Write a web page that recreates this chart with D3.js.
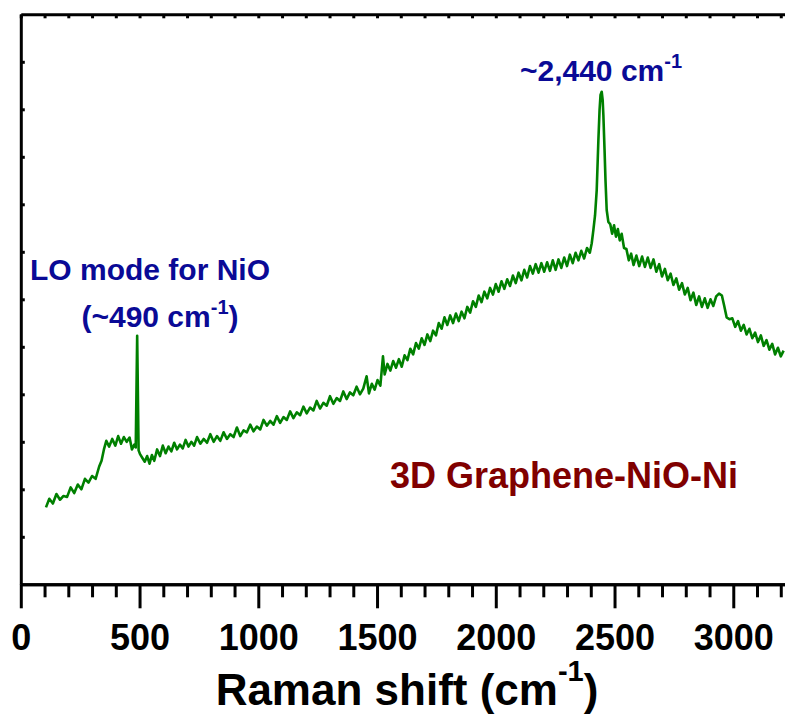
<html>
<script src="https://d3js.org/d3.v7.min.js"></script>
<style>
body { margin: 0; background: #fff; }
text { font-family: "Liberation Sans", Arial, sans-serif; font-weight: bold; }
</style>
<body>
<svg width="785" height="717"></svg>
<script>
// Raman spectrum of 3D Graphene-NiO-Ni (intensity in a.u.)
const shift = [106,120,135,150,165,180,195,210,225,240,255,270,285,300,315,330,340,350,360,372,385,398,410,422,434,446,458,468,478,484,490,496,
  502,512,522,532,542,552,562,574,586,598,610,622,634,646,658,670,682,694,706,718,730,742,756,770,784,798,812,826,840,854,868,882,896,
  910,924,938,952,966,980,994,1008,1022,1036,1050,1064,1078,1092,1106,1120,1134,1148,1162,1176,1190,1204,1218,1232,1246,1260,1274,1288,
  1302,1316,1330,1344,1358,1372,1386,1400,1414,1428,1442,1456,1466,1478,1490,1502,1514,1525,1532,1544,1556,1568,1580,1592,1604,1616,1628,
  1640,1652,1664,1676,1688,1700,1712,1724,1736,1748,1760,1772,1784,1796,1808,1820,1832,1844,1856,1868,1880,1892,1904,1916,1928,1940,1952,
  1964,1976,1988,2000,2012,2024,2036,2048,2060,2072,2084,2096,2108,2120,2132,2144,2156,2168,2180,2192,2204,2216,2228,2240,2252,2264,2276,
  2288,2300,2312,2324,2336,2348,2360,2372,2384,2396,2404,2411,2418,2425,2432,2437,2441,2446,2450,2453,2458,2462,2467,2474,2482,2490,2498,
  2506,2514,2522,2530,2540,2550,2560,2570,2580,2592,2604,2616,2628,2640,2652,2664,2676,2688,2700,2712,2724,2736,2748,2760,2772,2784,2796,
  2808,2820,2832,2844,2856,2868,2880,2892,2904,2916,2928,2940,2952,2962,2972,2984,2996,3008,3020,3032,3044,3056,3068,3080,3092,3104,3116,
  3128,3140,3152,3164,3176,3188,3200,3212];
const intensity = [1.62,1.80,1.70,1.90,1.78,1.86,1.84,2.04,1.92,2.10,2.00,2.22,2.14,2.28,2.22,2.48,2.60,2.84,3.02,2.90,3.06,2.92,3.12,2.96,3.10,3.00,3.09,2.84,2.94,2.88,5.23,2.82,
  2.74,2.66,2.58,2.70,2.54,2.72,2.60,2.84,2.70,2.92,2.76,2.90,2.80,2.98,2.84,2.94,2.86,3.04,2.90,3.00,2.92,3.10,2.96,3.06,2.98,3.16,3.00,3.12,3.02,3.20,3.06,3.16,3.10,
  3.30,3.12,3.24,3.20,3.36,3.22,3.32,3.26,3.46,3.34,3.44,3.36,3.54,3.40,3.52,3.46,3.64,3.50,3.62,3.56,3.74,3.60,3.72,3.66,3.86,3.70,3.82,3.76,
  3.96,3.80,3.92,3.86,4.06,3.90,4.04,3.98,4.16,4.00,4.12,4.38,4.02,4.22,4.10,4.30,4.18,4.80,4.42,4.64,4.50,4.70,4.56,4.74,4.58,4.82,4.72,
  4.96,4.84,5.08,4.96,5.18,5.04,5.26,5.12,5.34,5.24,5.50,5.38,5.62,5.46,5.66,5.50,5.70,5.54,5.74,5.60,5.84,5.72,5.96,5.84,6.08,5.94,6.16,
  6.02,6.24,6.10,6.32,6.16,6.38,6.22,6.42,6.28,6.50,6.34,6.56,6.40,6.62,6.46,6.70,6.54,6.74,6.56,6.76,6.58,6.78,6.60,6.82,6.62,6.84,6.66,
  6.88,6.70,6.94,6.76,6.98,6.82,7.02,6.86,7.08,6.98,7.18,7.46,7.77,8.30,9.35,9.99,10.30,10.37,10.20,9.88,9.14,8.50,7.88,7.63,7.58,7.38,7.56,
  7.32,7.48,7.24,7.38,7.08,7.06,6.82,6.96,6.72,6.92,6.70,6.90,6.68,6.88,6.66,6.84,6.58,6.74,6.48,6.64,6.40,6.54,6.30,6.44,6.20,6.34,6.10,
  6.24,5.98,6.14,5.88,6.06,5.84,6.02,5.82,6.00,5.86,6.06,6.12,6.08,5.86,5.62,5.58,5.60,5.42,5.54,5.34,5.46,5.26,5.38,5.18,5.30,5.10,5.24,
  5.02,5.14,4.94,5.06,4.84,4.98,4.80,4.92];

const majorTicks = [0, 500, 1000, 1500, 2000, 2500, 3000];
const minorTicks = [100,200,300,400,600,700,800,900,1100,1200,1300,1400,1600,1700,1800,1900,2100,2200,2300,2400,2600,2700,2800,2900,3100,3200];
const yTicks = [1,2,3,4,5,6,7,8,9,10,11];

const svg = d3.select("svg");
const x = d3.scaleLinear().domain([0, 3230]).range([20.8, 787.9]);
const y = d3.scaleLinear().domain([0, 12]).range([584.3, 14.3]);

// spectrum
const data = shift.map((s, i) => [s, intensity[i]]);
svg.append("path")
    .datum(data)
    .attr("fill", "none")
    .attr("stroke", "#008000")
    .attr("stroke-width", 2.6)
    .attr("stroke-linejoin", "round")
    .attr("d", d3.line().x(d => x(d[0])).y(d => y(d[1])));

// bottom axis, minor then major
svg.append("g")
    .attr("transform", "translate(0,584.3)")
    .call(d3.axisBottom(x).tickValues(minorTicks).tickSize(13).tickSizeOuter(0).tickFormat(""));
const xAxis = svg.append("g")
    .attr("transform", "translate(0,584.3)")
    .call(d3.axisBottom(x).tickValues(majorTicks).tickSize(24).tickSizeOuter(0).tickFormat(d3.format("d")));
xAxis.selectAll("text")
    .attr("y", 40)
    .attr("fill", "#000")
    .style("font-size", "36px");

// top border with small inward ticks
svg.append("g")
    .attr("transform", "translate(0,14.3)")
    .call(d3.axisTop(x).tickValues(majorTicks.concat(minorTicks)).tickSize(-4).tickSizeOuter(0).tickFormat(""));

// left axis, inward ticks, no labels
svg.append("g")
    .attr("transform", "translate(20.8,0)")
    .call(d3.axisLeft(y).tickValues(yTicks).tickSize(-4).tickSizeOuter(0).tickFormat(""));

svg.selectAll(".domain, .tick line")
    .attr("stroke", "#000")
    .attr("stroke-width", 3);

// x axis title
const title = svg.append("text")
    .attr("x", 407)
    .attr("y", 705)
    .attr("text-anchor", "middle")
    .style("font-size", "44px")
    .attr("fill", "#000");
title.append("tspan").text("Raman shift (cm");
title.append("tspan").attr("dy", -24).style("font-size", "29px").text("-1");
title.append("tspan").attr("dy", 24).text(")");

// annotations
const blue = "#0a0a96";
svg.append("text")
    .attr("x", 150).attr("y", 280)
    .attr("text-anchor", "middle")
    .attr("fill", blue)
    .style("font-size", "30px")
    .text("LO mode for NiO");

const lo = svg.append("text")
    .attr("x", 160).attr("y", 327)
    .attr("text-anchor", "middle")
    .attr("fill", blue)
    .style("font-size", "30px");
lo.append("tspan").text("(~490 cm");
lo.append("tspan").attr("dy", -13).style("font-size", "20px").text("-1");
lo.append("tspan").attr("dy", 13).text(")");

const g2d = svg.append("text")
    .attr("x", 601).attr("y", 81)
    .attr("text-anchor", "middle")
    .attr("fill", blue)
    .style("font-size", "30px");
g2d.append("tspan").text("~2,440 cm");
g2d.append("tspan").attr("dy", -13).style("font-size", "20px").text("-1");

svg.append("text")
    .attr("x", 390).attr("y", 488)
    .attr("fill", "#800000")
    .style("font-size", "36px")
    .text("3D Graphene-NiO-Ni");
</script>
</body>
</html>
